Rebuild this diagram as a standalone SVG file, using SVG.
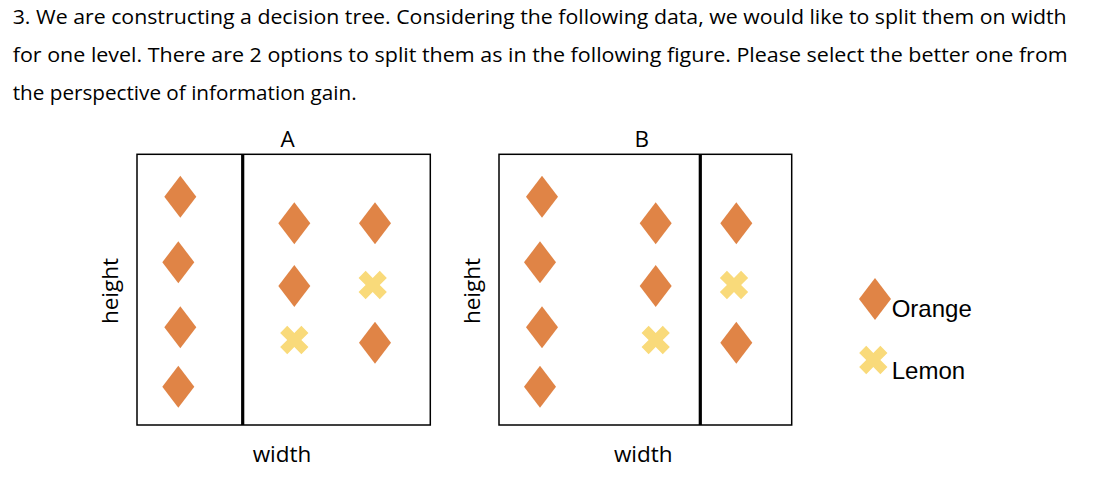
<svg xmlns="http://www.w3.org/2000/svg" xmlns:xlink="http://www.w3.org/1999/xlink" width="1105" height="481" viewBox="0 0 1105 481">
<style>
.q{font-family:"Open Sans","Liberation Sans",sans-serif;font-size:19.8px;fill:#000}
.lbl{font-family:"Open Sans","Liberation Sans",sans-serif;font-size:22.5px;fill:#000}
.leg{font-family:"Liberation Sans",Arial,sans-serif;font-size:24px;fill:#000}
.box{fill:#fff;stroke:#000;stroke-width:1.5}
.div{stroke:#000;stroke-width:3.2}
.orange{fill:#E08446}
.lemon{fill:#F9DA7A}
</style>
<defs>
<path id="dia" class="orange" d="M0,-21 L16,0 L0,21 L-16,0 Z"/>
<polygon id="xx" class="lemon" transform="rotate(45)" points="5,-15 5,-5 15,-5 15,5 5,5 5,15 -5,15 -5,5 -15,5 -15,-5 -5,-5 -5,-15"/>
</defs>
<rect width="1105" height="481" fill="#fff"/>
<g id="question">
<text class="q" x="12.7" y="24" textLength="1054" lengthAdjust="spacingAndGlyphs">3. We are constructing a decision tree. Considering the following data, we would like to split them on width</text>
<text class="q" x="12.7" y="62.3" textLength="1055" lengthAdjust="spacingAndGlyphs">for one level. There are 2 options to split them as in the following figure. Please select the better one from</text>
<text class="q" x="12.7" y="100" textLength="344" lengthAdjust="spacingAndGlyphs">the perspective of information gain.</text>
</g>
<g id="panelA">
<text class="lbl" x="287.5" y="147" text-anchor="middle">A</text>
<rect class="box" x="137" y="154.3" width="293.3" height="270.7"/>
<line class="div" x1="242.7" y1="154.3" x2="242.7" y2="425"/>
<use xlink:href="#dia" x="180.3" y="196.7"/>
<use xlink:href="#dia" x="178.3" y="262.3"/>
<use xlink:href="#dia" x="180.3" y="327.3"/>
<use xlink:href="#dia" x="178.3" y="386.7"/>
<use xlink:href="#dia" x="294.3" y="223.3"/>
<use xlink:href="#dia" x="294.3" y="286"/>
<use xlink:href="#xx" x="294.3" y="340"/>
<use xlink:href="#dia" x="375" y="223.3"/>
<use xlink:href="#xx" x="372.7" y="285"/>
<use xlink:href="#dia" x="375" y="342.7"/>
<text class="lbl" x="282" y="462" text-anchor="middle">width</text>
<text class="lbl" transform="translate(118.3,291) rotate(-90)" text-anchor="middle">height</text>
</g>
<g id="panelB">
<text class="lbl" x="641.7" y="147" text-anchor="middle">B</text>
<rect class="box" x="499" y="154.3" width="292.7" height="270.7"/>
<line class="div" x1="700.3" y1="154.3" x2="700.3" y2="425"/>
<use xlink:href="#dia" x="542" y="196.7"/>
<use xlink:href="#dia" x="540" y="262.3"/>
<use xlink:href="#dia" x="542" y="327.3"/>
<use xlink:href="#dia" x="540" y="386.7"/>
<use xlink:href="#dia" x="655.7" y="223.3"/>
<use xlink:href="#dia" x="655.7" y="286"/>
<use xlink:href="#xx" x="655.7" y="340"/>
<use xlink:href="#dia" x="736.3" y="223.3"/>
<use xlink:href="#xx" x="734" y="285"/>
<use xlink:href="#dia" x="736.3" y="342.7"/>
<text class="lbl" x="643.3" y="462" text-anchor="middle">width</text>
<text class="lbl" transform="translate(480.3,291) rotate(-90)" text-anchor="middle">height</text>
</g>
<g id="legend">
<use xlink:href="#dia" x="875" y="299"/>
<text class="leg" x="891.7" y="316.7">Orange</text>
<use xlink:href="#xx" x="873.3" y="360"/>
<text class="leg" x="891.7" y="379.3">Lemon</text>
</g>
</svg>
